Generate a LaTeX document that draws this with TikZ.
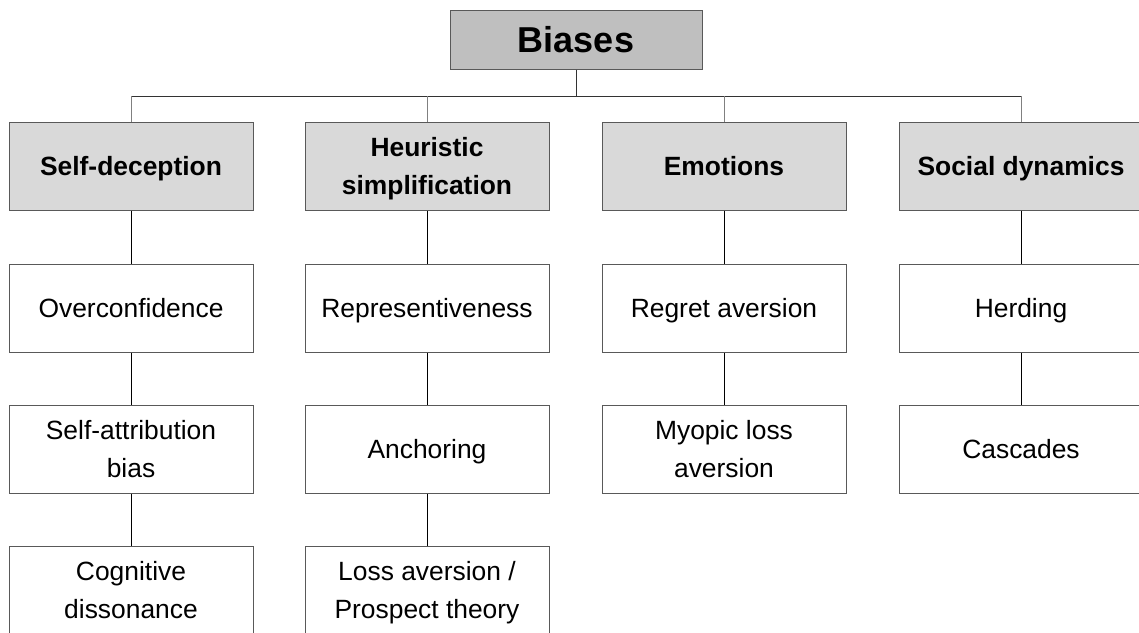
\documentclass[tikz,border=0pt]{standalone}
\usepackage{fontspec}
\setmainfont{Liberation Sans}
\begin{document}
\begin{tikzpicture}[x=1pt,y=-1pt,
  box/.style={draw=black!65, line width=1pt, rectangle, minimum width=244pt, minimum height=88pt,
    inner sep=0pt, align=center, font=\fontsize{26.4}{38}\selectfont},
  oneline/.style={text height=19pt, text depth=1pt},
  twoline/.style={text height=57pt, text depth=1pt},
  catbox/.style={box, fill=black!15, font=\fontsize{26.4}{38}\selectfont\bfseries},
  rootbox/.style={draw=black!65, line width=1pt, rectangle, minimum width=252pt, minimum height=59pt,
    inner sep=0pt, fill=black!25, text height=26pt, text depth=1pt, font=\fontsize{36}{40}\selectfont\bfseries},
  link/.style={draw=black, line width=1pt},
  bus/.style={draw=black!80, line width=1pt},
  stem/.style={draw=black!50, line width=1pt}]
\useasboundingbox (0,0) rectangle (1139,632);
\clip (0,0) rectangle (1139,632);
\fill[white] (0,0) rectangle (1139,632);

\node[rootbox] (root) at (576,39.5) {Biases};
\coordinate (busc) at (576,96);

\node[catbox, oneline] (c1) at (131,166) {Self-deception};
\node[catbox, twoline] (c2) at (427,166) {Heuristic\\simplification};
\node[catbox, oneline] (c3) at (724,166) {Emotions};
\node[catbox, oneline] (c4) at (1021,166) {Social dynamics};

\node[box, oneline] (a1) at (131,308) {Overconfidence};
\node[box, twoline] (a2) at (131,449) {Self-attribution\\bias};
\node[box, twoline] (a3) at (131,590) {Cognitive\\dissonance};

\node[box, oneline] (b1) at (427,308) {Representiveness};
\node[box, oneline] (b2) at (427,449) {Anchoring};
\node[box, twoline] (b3) at (427,590) {Loss aversion /\\Prospect theory};

\node[box, oneline] (e1) at (724,308) {Regret aversion};
\node[box, twoline] (e2) at (724,449) {Myopic loss\\aversion};

\node[box, oneline] (s1) at (1021,308) {Herding};
\node[box, oneline] (s2) at (1021,449) {Cascades};

\draw[bus] (root.south) -- (busc);
\draw[bus] (c1.north |- busc) -- (c4.north |- busc);
\foreach \c in {c1,c2,c3,c4} \draw[stem] (\c.north) -- (\c.north |- busc);

\draw[link] (c1) -- (a1);
\draw[link] (a1) -- (a2);
\draw[link] (a2) -- (a3);
\draw[link] (c2) -- (b1);
\draw[link] (b1) -- (b2);
\draw[link] (b2) -- (b3);
\draw[link] (c3) -- (e1);
\draw[link] (e1) -- (e2);
\draw[link] (c4) -- (s1);
\draw[link] (s1) -- (s2);
\end{tikzpicture}
\end{document}
